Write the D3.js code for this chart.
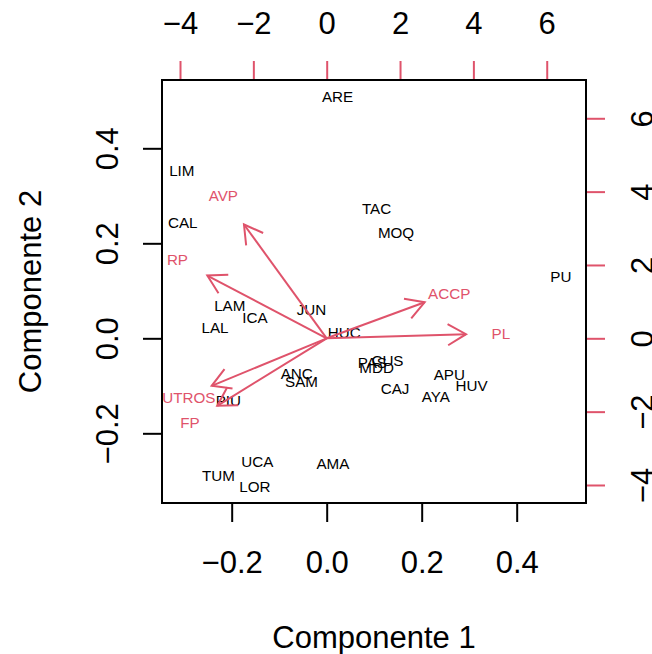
<!DOCTYPE html>
<html>
<head>
<meta charset="utf-8">
<script src="https://cdn.jsdelivr.net/npm/d3@7"></script>
<style>
  html, body { margin: 0; padding: 0; background: #fff; }
  text { font-family: "Liberation Sans", Arial, Helvetica, sans-serif; }
</style>
</head>
<body>
<svg id="chart" width="652" height="654"></svg>
<script>
// ---- data ----
const obsLabels = ["ARE","LIM","CAL","TAC","MOQ","PU","JUN","HUC","LAM","ICA","LAL",
  "PAS","CUS","MDD","APU","HUV","CAJ","AYA","ANC","SAM","PIU","UCA","TUM","LOR","AMA"];
const comp1 = [0.023,-0.305,-0.303,0.105,0.146,0.493,-0.032,0.037,-0.204,-0.151,-0.235,
  0.096,0.128,0.105,0.258,0.305,0.144,0.230,-0.063,-0.053,-0.207,-0.146,-0.228,-0.151,0.013];
const comp2 = [0.510,0.354,0.243,0.273,0.222,0.131,0.061,0.012,0.068,0.043,0.022,
  -0.051,-0.047,-0.061,-0.076,-0.100,-0.105,-0.123,-0.074,-0.091,-0.130,-0.260,-0.289,-0.312,-0.263];

const varLabels = ["AVP","RP","ACCP","PL","OUTROS","FP"];
const load1 = [-2.82,-4.07,3.34,4.75,-3.92,-3.73];
const load2 = [3.88,2.14,1.23,0.14,-1.62,-2.30];
const arrowFrac = 0.8;

const xTicks = [-0.2, 0.0, 0.2, 0.4];
const yTicks = [-0.2, 0.0, 0.2, 0.4];
const topTicks = [-4, -2, 0, 2, 4, 6];
const rightTicks = [-4, -2, 0, 2, 4, 6];
const xTitle = "Componente 1";
const yTitle = "Componente 2";

// ---- layout ----
const L = 162, R = 586, T = 80, B = 503;
const red = "#DF536B";
const fs = 31;

const svg = d3.select("#chart");

const x = d3.scaleLinear().domain([-0.3467, 0.5459]).range([L, R]);
const y = d3.scaleLinear().domain([-0.3467, 0.5438]).range([B, T]);
const xv = d3.scaleLinear().domain([-4.491, 7.071]).range([L, R]);
const yv = d3.scaleLinear().domain([-4.491, 7.044]).range([B, T]);

svg.append("defs").append("clipPath").attr("id", "plotclip")
  .append("rect").attr("x", L).attr("y", T).attr("width", R - L).attr("height", B - T);

const plot = svg.append("g").attr("clip-path", "url(#plotclip)");

// observation labels
plot.selectAll("text.obs").data(obsLabels).join("text")
  .attr("class", "obs")
  .attr("x", (d, i) => x(comp1[i]))
  .attr("y", (d, i) => y(comp2[i]))
  .attr("dy", "0.36em")
  .attr("text-anchor", "middle")
  .attr("font-size", 15.2)
  .attr("fill", "#000")
  .text(d => d);

// arrows
const headLen = 21, headAng = Math.PI / 6;
varLabels.forEach((lab, i) => {
  const x0 = xv(0), y0 = yv(0);
  const x1 = xv(load1[i] * arrowFrac), y1 = yv(load2[i] * arrowFrac);
  const ang = Math.atan2(y1 - y0, x1 - x0);
  const g = plot.append("g").attr("stroke", red).attr("stroke-width", 2).attr("fill", "none");
  g.append("line").attr("x1", x0).attr("y1", y0).attr("x2", x1).attr("y2", y1);
  const p = d3.path();
  p.moveTo(x1 - headLen * Math.cos(ang - headAng), y1 - headLen * Math.sin(ang - headAng));
  p.lineTo(x1, y1);
  p.lineTo(x1 - headLen * Math.cos(ang + headAng), y1 - headLen * Math.sin(ang + headAng));
  g.append("path").attr("d", p.toString()).attr("stroke-linejoin", "miter");
});

// variable labels
plot.selectAll("text.var").data(varLabels).join("text")
  .attr("class", "var")
  .attr("x", (d, i) => xv(load1[i]))
  .attr("y", (d, i) => yv(load2[i]))
  .attr("dy", "0.36em")
  .attr("text-anchor", "middle")
  .attr("font-size", 15.2)
  .attr("fill", red)
  .text(d => d);

// ---- axes ----
function styleAxis(g, color) {
  g.select(".domain").remove();
  g.selectAll(".tick line").attr("stroke", color).attr("stroke-width", 2);
  g.selectAll(".tick text").attr("fill", "#000").attr("font-size", fs)
    .attr("font-family", "Liberation Sans, Arial, sans-serif");
}

const gB = svg.append("g").attr("transform", `translate(0,${B})`)
  .call(d3.axisBottom(x).tickValues(xTicks).tickSize(19).tickFormat(d3.format(".1f")));
styleAxis(gB, "#000");
gB.selectAll(".tick text").attr("y", 59).attr("dy", "0.36em");

const gL = svg.append("g").attr("transform", `translate(${L},0)`)
  .call(d3.axisLeft(y).tickValues(yTicks).tickSize(19).tickFormat(d3.format(".1f")));
styleAxis(gL, "#000");
gL.selectAll(".tick text").attr("x", 0).attr("y", 0).attr("dy", "0.36em")
  .attr("text-anchor", "middle").attr("transform", "translate(-55.3,0) rotate(-90)");

const gT = svg.append("g").attr("transform", `translate(0,${T})`)
  .call(d3.axisTop(xv).tickValues(topTicks).tickSize(19).tickFormat(d3.format("d")));
styleAxis(gT, red);
gT.selectAll(".tick text").attr("y", -57).attr("dy", "0.36em");

const gR = svg.append("g").attr("transform", `translate(${R},0)`)
  .call(d3.axisRight(yv).tickValues(rightTicks).tickSize(19).tickFormat(d3.format("d")));
styleAxis(gR, red);
gR.selectAll(".tick text").attr("x", 0).attr("y", 0).attr("dy", "0.36em")
  .attr("text-anchor", "middle").attr("transform", "translate(55.7,0) rotate(-90)");

// box
svg.append("rect").attr("x", L).attr("y", T).attr("width", R - L).attr("height", B - T)
  .attr("fill", "none").attr("stroke", "#000").attr("stroke-width", 2);

// titles
svg.append("text").attr("x", (L + R) / 2).attr("y", 637).attr("dy", "0.36em")
  .attr("text-anchor", "middle").attr("font-size", fs).text(xTitle);
svg.append("text").attr("transform", `translate(30,${(T + B) / 2}) rotate(-90)`)
  .attr("dy", "0.36em").attr("text-anchor", "middle").attr("font-size", fs).text(yTitle);
</script>
</body>
</html>
